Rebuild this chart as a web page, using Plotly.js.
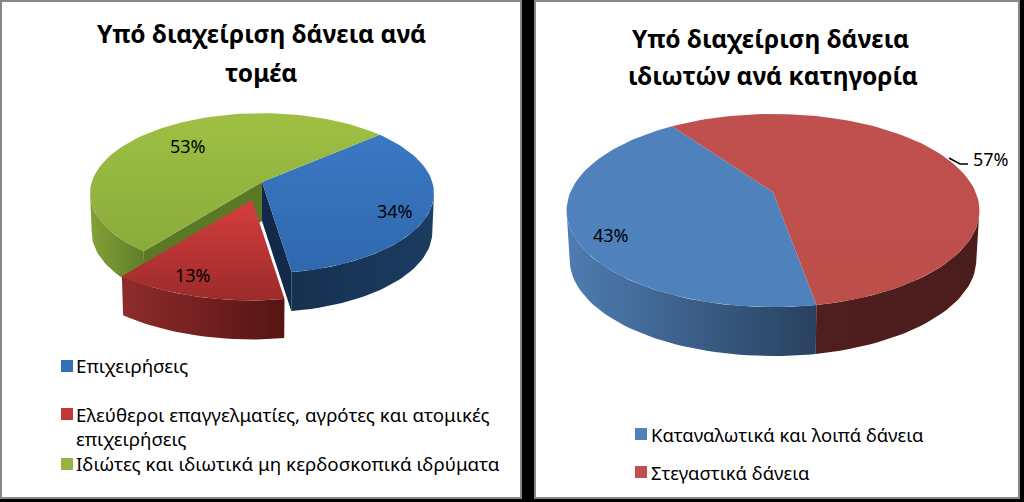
<!DOCTYPE html>
<html><head><meta charset="utf-8">
<script src="https://cdn.plot.ly/plotly-3.0.1.min.js"></script>
<style>html,body{margin:0;padding:0;background:#000}</style></head>
<body><div id="chart" style="width:1024px;height:502px"></div>
<script>
// ---- data ----
const sectorCategories = ["Επιχειρήσεις", "Ελεύθεροι επαγγελματίες, αγρότες και ατομικές επιχειρήσεις", "Ιδιώτες και ιδιωτικά μη κερδοσκοπικά ιδρύματα"];
const sectorValues = [34, 13, 53];
const householdCategories = ["Καταναλωτικά και λοιπά δάνεια", "Στεγαστικά δάνεια"];
const householdValues = [43, 57];
const sectorTitle = ["Υπό διαχείριση δάνεια ανά", "τομέα"];
const householdTitle = ["Υπό διαχείριση δάνεια", "ιδιωτών ανά κατηγορία"];

// ---- styling ----
const FONT = "Noto Sans, Open Sans, sans-serif";
const sectorStyle = {
  cx:262, cy:182, R:170.3, S:78.5, k:0.14, depth:39, rot:49, ringScale:0.99,
  explode:[null,{dx:-10,dy:18,scale:1.1},null],
  top:[["#3b78c4","#2f68ad"],["#d63d3d","#9c2b2b"],["#9fc044","#8aab3a"]],
  wall:[["#16304f","#1c3c62"],["#8f2c2b","#551413"],["#82a136","#5f7d2a"]],
  cut:["#12294a",null,"#5a7826"]
};
const householdStyle = {
  cx:773, cy:192, R:202.6, S:93, k:0.192, depth:49, rot:170, ringScale:0.985,
  explode:[null,null],
  top:[["#4f81bd","#4f81bd"],["#c0504d","#bd4f4b"]],
  wall:[["#4f7cb2","#28415f"],["#4f1f1e","#4a1d1c"]],
  cut:[null,null]
};

function project(g, deg, e) {
  const t = deg*Math.PI/180, u = Math.sin(t), v = Math.cos(t), w = 1 + g.k*v;
  const s = e ? e.scale : 1;
  const ox = e ? e.dx : 0, oy = e ? e.dy : 0;
  return [g.cx + ox + s*g.R*u/w, g.cy + oy - s*g.S*v/w];
}
function drop(g, p, e) {
  const c = g.cx + (e ? e.dx : 0);
  return [c + (p[0]-c)*g.ringScale, p[1] + g.depth];
}
function arc(g, a, b, e) {
  const pts = [], n = Math.max(2, Math.ceil(Math.abs(b-a)/2));
  for (let i=0;i<=n;i++) pts.push(project(g, a+(b-a)*i/n, e));
  return pts;
}
function poly(pts, colors, type) {
  const xs = pts.map(p=>p[0]), ys = pts.map(p=>p[1]);
  return {type:'scatter', mode:'lines', x:[...xs,xs[0]], y:[...ys,ys[0]], fill:'toself',
    line:{width:0}, hoverinfo:'skip', showlegend:false,
    fillcolor:colors[0],
    fillgradient:{type:type, colorscale:[[0,colors[0]],[1,colors[1]]],
      start: type==='horizontal'?Math.min(...xs):Math.min(...ys),
      stop:  type==='horizontal'?Math.max(...xs):Math.max(...ys)}};
}
function pie3d(values, g) {
  const total = values.reduce((a,b)=>a+b,0);
  // the rim's silhouette points: the wall is visible between them
  const tangent = Math.acos(-g.k)*180/Math.PI;
  const wallFrom = tangent, wallTo = 360-tangent;
  let a = g.rot; const spans = values.map(v=>{const s=[a,a+v/total*360]; a=s[1]; return s;});
  const back = [], mid = [], front = [];
  values.forEach((v,i)=>{
    const [s,t] = spans[i], e = g.explode[i];
    const apex = [g.cx+(e?e.dx:0), g.cy+(e?e.dy:0)];
    const list = e ? front : back;
    if (g.cut[i]) {
      const edge = i===0 ? t : s;
      const rim = project(g, edge, e);
      back.push(poly([apex, rim, drop(g,rim,e), drop(g,apex,e)], [g.cut[i],g.cut[i]], 'horizontal'));
    }
    [[s,t],[s-360,t-360]].forEach(r=>{
      const lo = Math.max(r[0],wallFrom), hi = Math.min(r[1],wallTo);
      if (hi > lo) {
        const top = arc(g,lo,hi,e);
        list.push(poly([...top, ...top.slice().reverse().map(p=>drop(g,p,e))], g.wall[i], 'horizontal'));
      }
    });
    (e ? front : mid).push(poly([apex, ...arc(g,s,t,e)], g.top[i], 'vertical'));
  });
  return [...back, ...mid, ...front];
}

const traces = [...pie3d(sectorValues, sectorStyle), ...pie3d(householdValues, householdStyle)];

const legendA = {x:[67,67,67], y:[366,414,464], color:["#3470b8","#c23636","#93b53e"]};
const legendB = {x:[641,641], y:[434,472], color:["#4f81bd","#c0504d"]};
[legendA, legendB].forEach(l=>traces.push({type:'scatter',mode:'markers',x:l.x,y:l.y,
  marker:{symbol:'square',size:12,color:l.color},hoverinfo:'skip',showlegend:false}));

function text(t,x,y,size,anchor,bold){
  return {text:bold?'<b>'+t+'</b>':t,x:x,y:y,xref:'x',yref:'y',showarrow:false,xanchor:anchor,yanchor:'middle',
    font:{family:FONT,size:size,color:'#000'}};
}
const annotations = [
  text(sectorTitle[0],261,33,24.5,'center',true), text(sectorTitle[1],261,72,24.5,'center',true),
  text(householdTitle[0],770,38,24.5,'center',true), text(householdTitle[1],773,75,24.5,'center',true),
  text(sectorValues[2]+'%',188,146,18,'center'), text(sectorValues[0]+'%',395,211,18,'center'),
  text(sectorValues[1]+'%',193,275,18,'center'),
  text(householdValues[0]+'%',611,235,18,'center'), text(householdValues[1]+'%',991,159,18,'center'),
  text(sectorCategories[0],74,366,18.8,'left'),
  text("Ελεύθεροι επαγγελματίες, αγρότες και ατομικές",74,414,18.7,'left'),
  text("επιχειρήσεις",74,439,18.8,'left'),
  text(sectorCategories[2],74,464,18.8,'left'),
  text(householdCategories[0],649,434,18.4,'left'),
  text(householdCategories[1],649,472,18.4,'left')
];
const shapes = [
  {type:'rect',layer:'below',xref:'x',yref:'y',x0:1,y0:1,x1:521,y1:498,fillcolor:'#fff',line:{color:'#868686',width:2}},
  {type:'rect',layer:'below',xref:'x',yref:'y',x0:535,y0:1,x1:1019,y1:498,fillcolor:'#fff',line:{color:'#868686',width:2}},
  {type:'path',xref:'x',yref:'y',path:'M949,158 L960,164 L968,164',line:{color:'#000',width:1.5}}
];
Plotly.newPlot('chart',traces,{
  width:1024,height:502,margin:{l:0,r:0,t:0,b:0},
  paper_bgcolor:'#000',plot_bgcolor:'#000',showlegend:false,
  xaxis:{range:[0,1024],visible:false,fixedrange:true},
  yaxis:{range:[502,0],visible:false,fixedrange:true},
  annotations:annotations,shapes:shapes
},{staticPlot:true,displayModeBar:false});
</script></body></html>
